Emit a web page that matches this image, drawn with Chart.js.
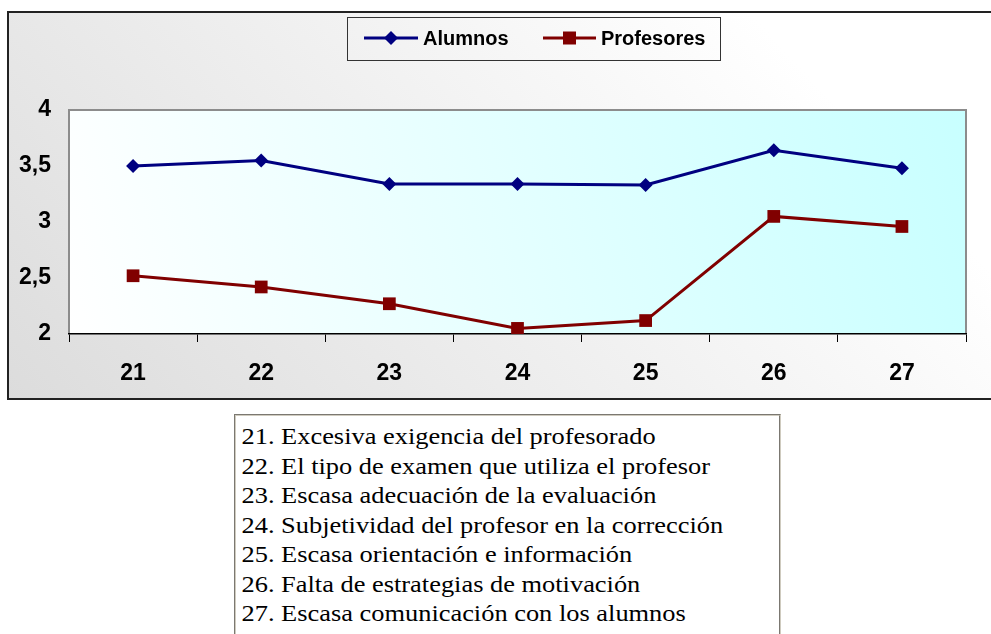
<!DOCTYPE html>
<html>
<head>
<meta charset="utf-8">
<script src="https://cdn.jsdelivr.net/npm/chart.js@4/dist/chart.umd.min.js"></script>
<style>
  html, body { margin: 0; padding: 0; background: #fff; overflow: hidden; width: 991px; height: 634px; }
  #myChart { position: absolute; left: 0; top: 0; }
  #notes {
    position: absolute; left: 234px; top: 414px; width: 547px; height: 240px;
    border: 2px groove #cfcbbf; background: #fff; box-sizing: border-box;
  }
  #notesText {
    font-family: "Liberation Serif", "Times New Roman", "DejaVu Serif", serif; font-size: 24px;
    line-height: 29.5px; color: #000; padding: 6px 0 0 5px;
    transform: scaleX(1.1); transform-origin: 0 0;
  }
  #notesText div { white-space: nowrap; }
</style>
</head>
<body>
<canvas id="myChart" width="991" height="405"></canvas>
<div id="notes"><div id="notesText"></div></div>
<script>
"use strict";

const categories = ["21", "22", "23", "24", "25", "26", "27"];
const alumnos = [3.5, 3.55, 3.34, 3.34, 3.33, 3.64, 3.48];
const profesores = [2.52, 2.42, 2.27, 2.05, 2.12, 3.05, 2.96];
const yTickLabels = ["2", "2,5", "3", "3,5", "4"];
const descriptions = [
  "21. Excesiva exigencia del profesorado",
  "22. El tipo de examen que utiliza el profesor",
  "23. Escasa adecuación de la evaluación",
  "24. Subjetividad del profesor en la corrección",
  "25. Escasa orientación e información",
  "26. Falta de estrategias de motivación",
  "27. Escasa comunicación con los alumnos",
];

const notes = document.getElementById("notesText");
descriptions.forEach((d) => {
  const line = document.createElement("div");
  line.textContent = d;
  notes.appendChild(line);
});

const navy = "#000080";
const maroon = "#800000";

// backgrounds, frame and plot border (Excel look)
const backgrounds = {
  id: "backgrounds",
  beforeDraw(chart) {
    const ctx = chart.ctx;
    const a = chart.chartArea;
    ctx.save();
    let g = ctx.createLinearGradient(8, 399, 600, -150);
    g.addColorStop(0, "#dcdcdc");
    g.addColorStop(1, "#ffffff");
    ctx.fillStyle = g;
    ctx.fillRect(8, 12, 1000, 387);
    ctx.lineWidth = 2;
    ctx.strokeStyle = "#222";
    ctx.strokeRect(8, 12, 1000, 387);

    g = ctx.createLinearGradient(a.left, a.bottom, a.right, a.top);
    g.addColorStop(0, "#ffffff");
    g.addColorStop(1, "#c8ffff");
    ctx.fillStyle = g;
    ctx.fillRect(a.left, a.top, a.right - a.left, a.bottom - a.top);
    ctx.lineWidth = 2;
    ctx.strokeStyle = "#8c8c8c";
    ctx.beginPath();
    ctx.moveTo(a.left, a.bottom);
    ctx.lineTo(a.left, a.top);
    ctx.lineTo(a.right, a.top);
    ctx.lineTo(a.right, a.bottom);
    ctx.stroke();
    ctx.restore();
  },
};

// legend box with line + marker samples
const excelLegend = {
  id: "excelLegend",
  afterDraw(chart) {
    const ctx = chart.ctx;
    ctx.save();
    ctx.lineWidth = 1;
    ctx.strokeStyle = "#333";
    ctx.strokeRect(347.5, 17.5, 373, 43);
    const y = 38;
    ctx.font = "bold 20px 'Liberation Sans', Arial, sans-serif";
    ctx.textBaseline = "middle";
    ctx.fillStyle = "#000";

    ctx.strokeStyle = navy;
    ctx.lineWidth = 3;
    ctx.beginPath();
    ctx.moveTo(364, y);
    ctx.lineTo(418, y);
    ctx.stroke();
    ctx.fillStyle = navy;
    ctx.beginPath();
    ctx.moveTo(391, y - 7);
    ctx.lineTo(398, y);
    ctx.lineTo(391, y + 7);
    ctx.lineTo(384, y);
    ctx.closePath();
    ctx.fill();
    ctx.fillStyle = "#000";
    ctx.fillText(chart.data.datasets[0].label, 423, y + 1);

    ctx.strokeStyle = maroon;
    ctx.beginPath();
    ctx.moveTo(543, y);
    ctx.lineTo(596, y);
    ctx.stroke();
    ctx.fillStyle = maroon;
    ctx.fillRect(563, y - 6.5, 13, 13);
    ctx.fillStyle = "#000";
    ctx.fillText(chart.data.datasets[1].label, 601, y + 1);
    ctx.restore();
  },
};

new Chart("myChart", {
  type: "line",
  data: {
    labels: categories,
    datasets: [
      {
        label: "Alumnos",
        data: alumnos,
        borderColor: navy,
        backgroundColor: navy,
        borderWidth: 3,
        pointStyle: "rectRot",
        pointRadius: 7,
        pointBorderWidth: 0,
        pointHoverRadius: 7,
      },
      {
        label: "Profesores",
        data: profesores,
        borderColor: maroon,
        backgroundColor: maroon,
        borderWidth: 3,
        pointStyle: "rect",
        pointRadius: 9,
        pointBorderWidth: 0,
        pointHoverRadius: 9,
      },
    ],
  },
  options: {
    responsive: false,
    animation: false,
    devicePixelRatio: 1,
    layout: { padding: { left: 0, top: 110, right: 25, bottom: 0 } },
    plugins: {
      legend: { display: false },
      tooltip: { enabled: false },
    },
    scales: {
      x: {
        offset: true,
        grid: {
          offset: true,
          drawOnChartArea: false,
          tickLength: 8,
          tickColor: "#000",
          tickWidth: 1,
        },
        border: { color: "#000", width: 1.5 },
        ticks: {
          padding: 18,
          color: "#000",
          font: { family: "'Liberation Sans', Arial, sans-serif", size: 23, weight: "bold" },
        },
        afterFit(scale) {
          scale.height = 71;
        },
      },
      y: {
        min: 2,
        max: 4,
        grid: { drawOnChartArea: false, drawTicks: false },
        border: { display: false },
        ticks: {
          stepSize: 0.5,
          padding: 18,
          color: "#000",
          font: { family: "'Liberation Sans', Arial, sans-serif", size: 23, weight: "bold" },
          callback: (v, i) => yTickLabels[i],
        },
        afterFit(scale) {
          scale.width = 69;
        },
      },
    },
  },
  plugins: [backgrounds, excelLegend],
});
</script>
</body>
</html>
